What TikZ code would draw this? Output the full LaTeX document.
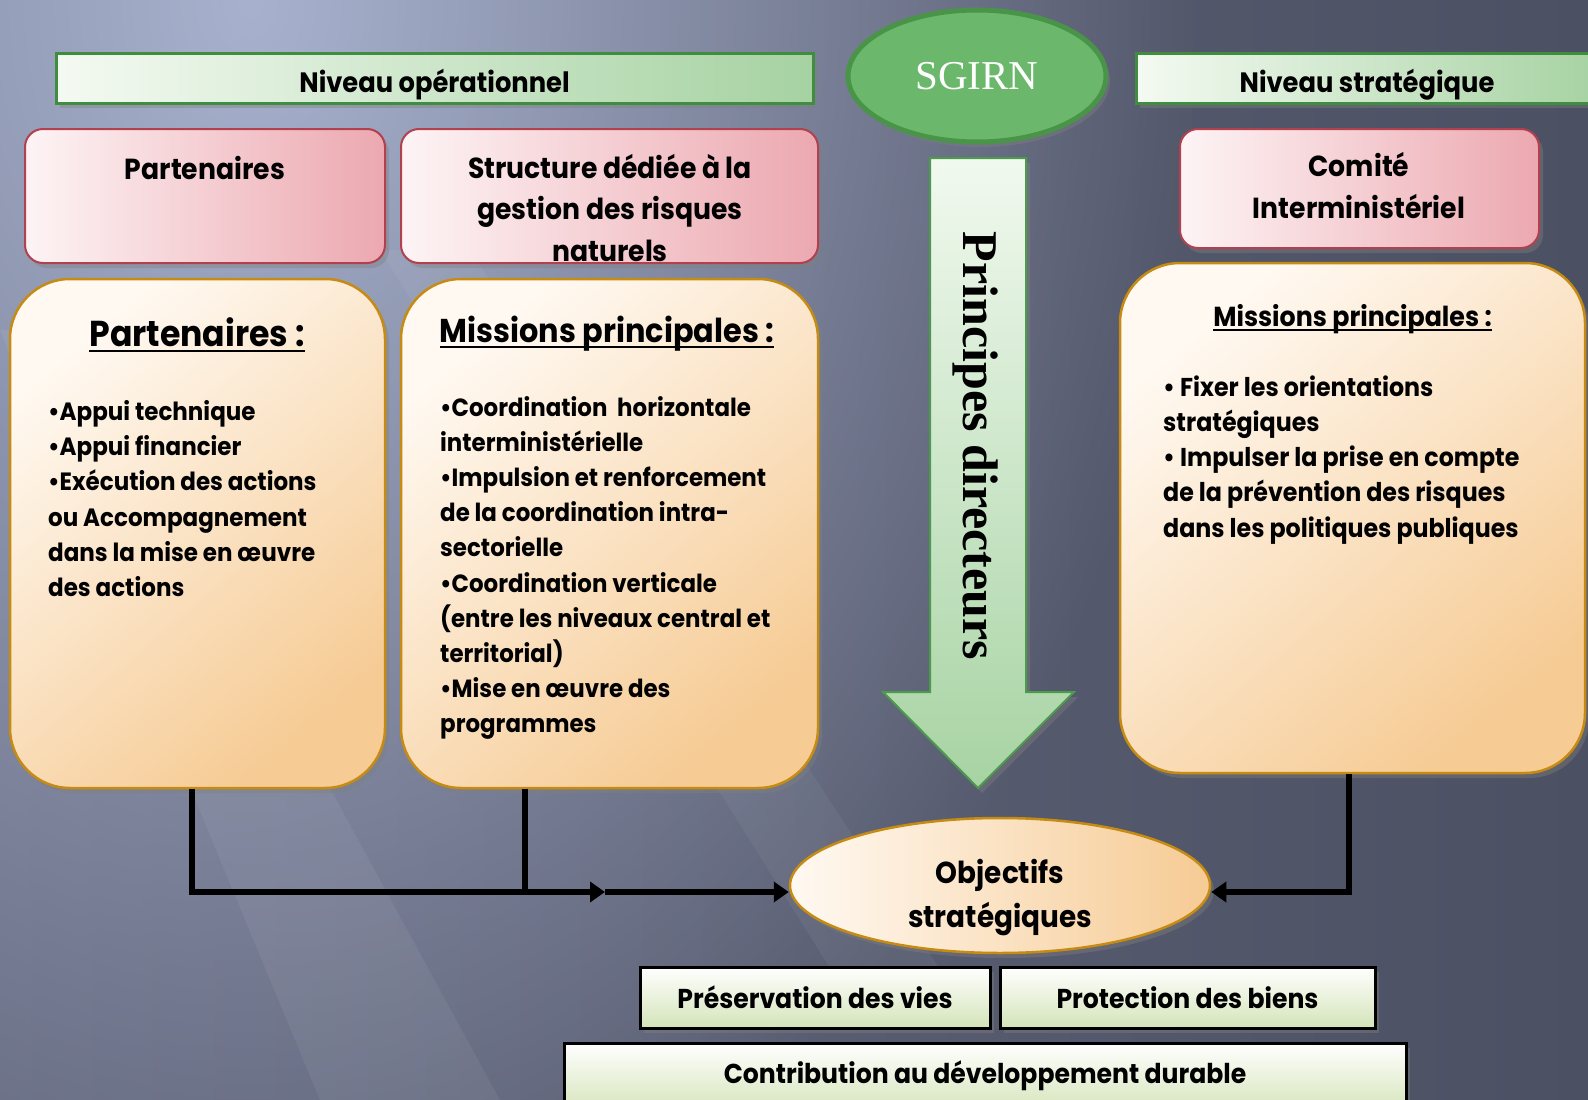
\documentclass[tikz,border=0pt]{standalone}
\usepackage{fontspec}
\newfontfamily\twfont{Poppins Bold}[FakeStretch=0.92]
\newfontfamily\serfont{Liberation Serif}
\usetikzlibrary{arrows.meta,shapes.geometric,shadows,calc,fadings}
\newcommand\myfs[2]{\fontsize{#1}{#2}\selectfont}
\definecolor{bgL}{HTML}{656A7F}
\definecolor{bgR}{HTML}{4C5063}
\definecolor{bgLight}{HTML}{A8B2CE}
\definecolor{gborder}{HTML}{3F8E3F}
\definecolor{gL}{HTML}{F4FAF2}
\definecolor{gR}{HTML}{A6D2A2}
\definecolor{sgFill}{HTML}{6BB76B}
\definecolor{sgBorder}{HTML}{4A944A}
\definecolor{pborder}{HTML}{B2414F}
\definecolor{pL}{HTML}{FDF4F5}
\definecolor{pR}{HTML}{ECA8B0}
\definecolor{oborder}{HTML}{C68B12}
\definecolor{oL}{HTML}{FFF9F2}
\definecolor{oR}{HTML}{F6CB94}
\definecolor{aborder}{HTML}{4C9B4C}
\definecolor{aT}{HTML}{F1F9EF}
\definecolor{aB}{HTML}{A7D3A3}
\definecolor{bG}{HTML}{D4E4B9}
\tikzfading[name=bgfade,inner color=transparent!0,outer color=transparent!100]
\begin{document}
\begin{tikzpicture}[x=1pt,y=-1pt,
  shadowed/.style={drop shadow={opacity=0.4,shadow xshift=4pt,shadow yshift=-5pt}},
  gbar/.style={draw=gborder,line width=3pt,left color=gL,right color=gR,shadowed},
  pinkbox/.style={draw=pborder,line width=2pt,rounded corners=18pt,left color=pL,right color=pR,shadowed},
  orbox/.style={draw=oborder,line width=2.5pt,rounded corners=60pt,top color=oL,bottom color=oR,shading angle=40,shadowed},
  botbox/.style={draw=black,line width=3pt,top color=white,bottom color=bG,shadowed},
  txt/.style={inner sep=0pt,text=black},
  conn/.style={line width=5.5pt,black},
  tri/.style={-{Triangle[length=15pt,width=20pt]}}
]
\useasboundingbox (0,0) rectangle (1588,1100);
% background
\shade[left color=bgL,right color=bgR] (0,0) rectangle (1588,1100);
\fill[bgLight,path fading=bgfade] (250,0) ellipse (950 and 1300);
\fill[white,opacity=0.06] (0,330) -- (80,330) -- (500,1100) -- (320,1100) -- cycle;
\fill[white,opacity=0.05] (380,250) -- (470,250) -- (960,1000) -- (850,1000) -- cycle;

% top bars and SGIRN
\node[gbar,minimum width=757,minimum height=50] (nivop) at (434.5,78) {};
\node[txt,anchor=base,font=\twfont\myfs{28}{30}] (nivopt) at (434.5,92) {Niveau opérationnel};
\node[gbar,minimum width=464,minimum height=50] (nivst) at (1368,78) {};
\node[txt,anchor=base,font=\twfont\myfs{28}{30}] (nivstt) at (1367,92) {Niveau stratégique};
\node[ellipse,draw=sgBorder,line width=5pt,fill=sgFill,minimum width=258,minimum height=132,shadowed] (sg) at (977,76) {};
\node[txt,anchor=base,text=white,font=\serfont\myfs{41}{41}] (sgt) at (977,89) {SGIRN};

% pink boxes
\node[pinkbox,minimum width=360,minimum height=134] (pk1) at (205,196) {};
\node[txt,anchor=base,font=\twfont\myfs{29}{30}] (pk1t) at (205,179) {Partenaires};
\node[pinkbox,minimum width=417,minimum height=134] (pk2) at (609.5,196) {};
\foreach \t [count=\i] in {{Structure dédiée à la},{gestion des risques},{naturels}}
  \node[txt,anchor=base,font=\twfont\myfs{29}{30}] (pk2t\i) at (610,{178+41.5*(\i-1)}) {\t};
\node[pinkbox,minimum width=359,minimum height=119] (pk3) at (1359.5,188.5) {};
\foreach \t [count=\i] in {{Comité},{Interministériel}}
  \node[txt,anchor=base,font=\twfont\myfs{29}{30}] (pk3t\i) at (1359,{176+42*(\i-1)}) {\t};

% orange boxes
\node[orbox,minimum width=375,minimum height=509] (o1) at (197.5,533.5) {};
\node[orbox,minimum width=417,minimum height=509] (o2) at (609.5,533.5) {};
\node[orbox,minimum width=465,minimum height=510] (o3) at (1352.5,518) {};

\node[txt,anchor=base,font=\twfont\myfs{36}{38}] (o1t) at (197,346) {Partenaires :};
\draw[line width=2.5pt] ([yshift=-5pt]o1t.base west) -- ([yshift=-5pt]o1t.base east);
\node[txt,anchor=base,font=\twfont\myfs{33}{34}] (o2t) at (607,342) {Missions principales :};
\draw[line width=2.5pt] ([yshift=-5pt]o2t.base west) -- ([yshift=-5pt]o2t.base east);
\node[txt,anchor=base,font=\twfont\myfs{27.5}{30}] (o3t) at (1352.5,326) {Missions principales :};
\draw[line width=2pt] ([yshift=-4pt]o3t.base west) -- ([yshift=-4pt]o3t.base east);

\foreach \t [count=\i] in {{•Appui technique},{•Appui financier},{•Exécution des actions},{ou Accompagnement},{dans la mise en œuvre},{des actions}}
  \node[txt,anchor=base west,font=\twfont\myfs{25}{30}] (o1l\i) at (48,{420.5+35.2*(\i-1)}) {\t};
\foreach \t [count=\i] in {{•Coordination\ \ horizontale},{interministérielle},{•Impulsion et renforcement},{de la coordination intra-},{sectorielle},{•Coordination verticale},{(entre les niveaux central et},{territorial)},{•Mise en œuvre des},{programmes}}
  \node[txt,anchor=base west,font=\twfont\myfs{24.9}{30}] (o2l\i) at (440,{416+35.2*(\i-1)}) {\t};
\foreach \t [count=\i] in {{• Fixer les orientations},{stratégiques},{• Impulser la prise en compte},{de la prévention des risques},{dans les politiques publiques}}
  \node[txt,anchor=base west,font=\twfont\myfs{25.8}{30}] (o3l\i) at (1163,{396+35.3*(\i-1)}) {\t};

% big arrow
\path[draw=aborder,line width=2pt,top color=aT,bottom color=aB,shadowed]
  (930,158) -- (1026,158) -- (1026,692) -- (1074,692) -- (978,788) -- (883,692) -- (930,692) -- cycle;
\node[txt,rotate=-90,font=\serfont\bfseries\myfs{50}{50}] (pd) at (976,446) {Principes directeurs};

% objectives
\node[ellipse,draw=oborder,line width=2.5pt,left color=oL,right color=oR,minimum width=420,minimum height=135,shadowed] (obj) at (1000,885.5) {};
\node[txt,anchor=base,font=\twfont\myfs{30.3}{32}] (objt1) at (1000,883) {Objectifs};
\node[txt,anchor=base,font=\twfont\myfs{30.3}{32}] (objt2) at (1000,927) {stratégiques};

\node[botbox,minimum width=350,minimum height=61] (pv) at (815,997.5) {};
\node[txt,anchor=base,font=\twfont\myfs{27.3}{30}] (pvt) at (815,1008) {Préservation des vies};
\node[botbox,minimum width=375,minimum height=61] (pb) at (1187.5,997.5) {};
\node[txt,anchor=base,font=\twfont\myfs{27.3}{30}] (pbt) at (1187.5,1008) {Protection des biens};
\node[botbox,minimum width=842,minimum height=70] (cd) at (985,1078) {};
\node[txt,anchor=base,font=\twfont\myfs{27.3}{30}] (cdt) at (985,1083) {Contribution au développement durable};

% connectors
\coordinate (c1) at (192,0);
\coordinate (c2) at (525,0);
\coordinate (c3) at (1349,0);
\coordinate (hrow) at (0,892);
\coordinate (mid) at (605,892);
\draw[conn,tri] (o1.south -| c1) |- (mid);
\draw[conn] (o2.south -| c2) -- (c2 |- hrow);
\draw[conn,tri] (mid) -- (obj.west |- hrow);
\draw[conn,tri] (o3.south -| c3) |- (obj.east |- hrow);
\end{tikzpicture}
\end{document}
